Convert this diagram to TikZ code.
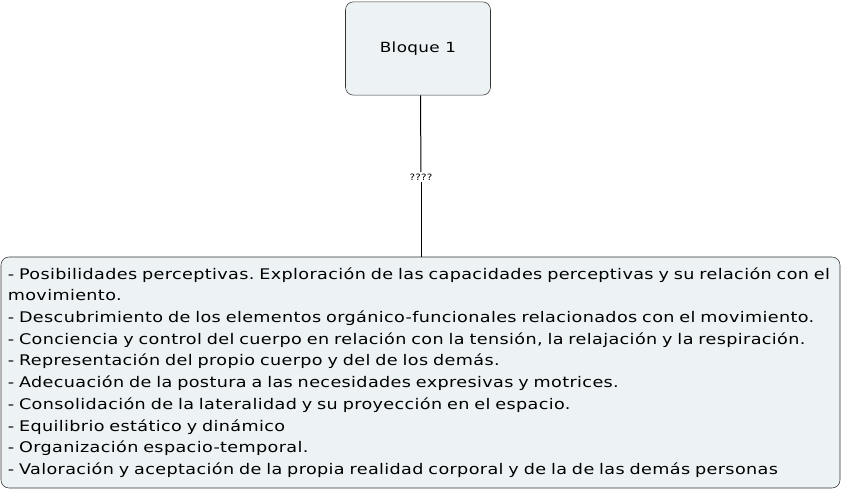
\documentclass[tikz,border=0pt]{standalone}
\usepackage{fontspec}
\setmainfont{DejaVu Sans}[FakeStretch=1.2, LetterSpace=2.5]
\usetikzlibrary{positioning}
\definecolor{boxfill}{HTML}{EDF3F5}
\definecolor{boxline}{HTML}{333333}
\tikzset{
  conceptbox/.style={draw=boxline, fill=boxfill, rounded corners=6pt, thin},
  linklabel/.style={font=\fontsize{6.5}{7}\selectfont, inner sep=1pt},
}
\frenchspacing
\begin{document}
\begin{tikzpicture}[x=0.75pt, y=-0.75pt]
  % frame
  \useasboundingbox (0,0) rectangle (843,491);

  % concepts
  \node[conceptbox, minimum width=108.75pt, minimum height=70pt,
        font=\fontsize{10.5}{12}\selectfont] (bloque) at (418,48.5) {Bloque 1};
  \node[conceptbox, minimum width=629.25pt, minimum height=173.25pt,
        text width=619pt, align=left, inner xsep=5pt, inner ysep=3.5pt,
        font=\fontsize{11}{16.3}\selectfont] (contenidos) at (420.5,372.5)
    {- Posibilidades perceptivas. Exploración de las capacidades perceptivas y su relación con el\\
     movimiento.\\
     - Descubrimiento de los elementos orgánico-funcionales relacionados con el movimiento.\\
     - Conciencia y control del cuerpo en relación con la tensión, la relajación y la respiración.\\
     - Representación del propio cuerpo y del de los demás.\\
     - Adecuación de la postura a las necesidades expresivas y motrices.\\
     - Consolidación de la lateralidad y su proyección en el espacio.\\
     - Equilibrio estático y dinámico\\
     - Organización espacio-temporal.\\
     - Valoración y aceptación de la propia realidad corporal y de la de las demás personas};

  % link
  \node[linklabel] (enlace) at (421,177) {????};
  \draw[line width=0.75pt, black] (bloque.south -| 420.5,0) -- (enlace);
  \draw[line width=0.75pt, black] (enlace) -- (enlace |- contenidos.north);
\end{tikzpicture}
\end{document}
